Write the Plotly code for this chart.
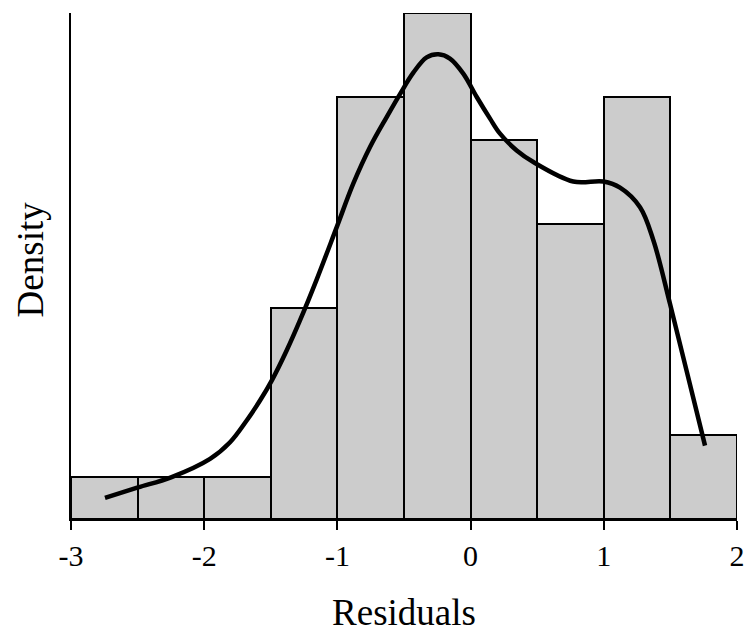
import plotly.graph_objects as go

# Histogram bins (left edges) and counts
bin_left = [-3.0, -2.5, -2.0, -1.5, -1.0, -0.5, 0.0, 0.5, 1.0, 1.5]
counts = [1, 1, 1, 5, 10, 12, 9, 7, 10, 2]
bin_width = 0.5
n_total = sum(counts)
density = [c / (n_total * bin_width) for c in counts]
centers = [b + bin_width / 2 for b in bin_left]

# Kernel density curve
kde_x = [-2.745, -2.497, -2.249, -1.956, -1.806, -1.681, -1.581, -1.493, -1.381,
         -1.281, -1.155, -1.005, -0.881, -0.755, -0.630, -0.530, -0.430, -0.330,
         -0.242, -0.155, -0.055, 0.046, 0.146, 0.221, 0.346, 0.471, 0.771, 0.997,
         1.122, 1.272, 1.372, 1.497, 1.622, 1.76]
kde_y = [0.0173, 0.0258, 0.0341, 0.0492, 0.0628, 0.0806, 0.0969, 0.1132, 0.1378,
         0.1624, 0.1960, 0.2387, 0.2742, 0.3042, 0.3287, 0.3475, 0.3650, 0.3775,
         0.3800, 0.3765, 0.3642, 0.3451, 0.3274, 0.3151, 0.3014, 0.2919, 0.276,
         0.276, 0.271, 0.255, 0.228, 0.176, 0.121, 0.060]

x_ticks = [-3, -2, -1, 0, 1, 2]

fig = go.Figure()
fig.add_trace(go.Bar(
    x=centers, y=density, width=[bin_width] * len(centers),
    marker=dict(color="#cccccc", line=dict(color="black", width=2)),
    showlegend=False,
))
fig.add_trace(go.Scatter(
    x=kde_x, y=kde_y, mode="lines",
    line=dict(color="black", width=4.5, shape="spline", smoothing=1.0),
    showlegend=False,
))

font = "Liberation Serif, Times New Roman, serif"
fig.update_layout(
    width=746, height=636,
    margin=dict(l=71, r=9, t=13, b=117, autoexpand=False),
    plot_bgcolor="white", paper_bgcolor="white",
    font=dict(family=font, color="black", size=30),
    bargap=0,
    xaxis=dict(
        range=[-3, 2], tickvals=x_ticks, ticktext=[str(t) for t in x_ticks],
        showgrid=False, zeroline=False, showline=True, linecolor="black", linewidth=2,
        ticks="outside", ticklen=9, tickwidth=2, tickcolor="black",
        tickfont=dict(size=30, family=font), automargin=False,
        title=dict(text="Residuals", font=dict(size=37, family=font), standoff=28),
    ),
    yaxis=dict(
        range=[0, max(density)], showgrid=False, zeroline=False,
        showline=True, linecolor="black", linewidth=2,
        showticklabels=False, ticks="", automargin=False,
    ),
    annotations=[dict(
        text="Density", textangle=-90, showarrow=False,
        xref="paper", yref="paper", x=-0.0616, y=0.513,
        xanchor="center", yanchor="middle",
        font=dict(size=37, family=font, color="black"),
    )],
)

fig.write_html("out.html", config={"displayModeBar": False})
with open("out.html", "r", encoding="utf-8") as f:
    html = f.read()
html = html.replace("<head>", "<head><style>html,body{margin:0;padding:0;}</style>", 1)
with open("out.html", "w", encoding="utf-8") as f:
    f.write(html)
